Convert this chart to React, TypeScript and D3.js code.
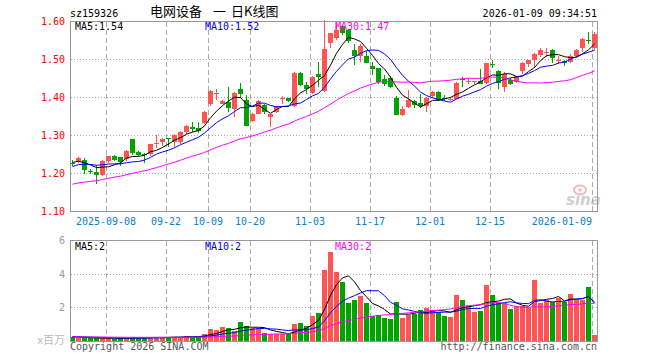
import React from 'react';
import * as d3 from 'd3';

// ---- data ----
const dates = [
  '2025-08-29',
  '2025-09-01', '2025-09-02', '2025-09-03', '2025-09-04', '2025-09-05',
  '2025-09-08', '2025-09-09', '2025-09-10', '2025-09-11', '2025-09-12',
  '2025-09-15', '2025-09-16', '2025-09-17', '2025-09-18', '2025-09-19',
  '2025-09-22', '2025-09-23', '2025-09-24', '2025-09-25', '2025-09-26',
  '2025-09-29', '2025-09-30',
  '2025-10-09', '2025-10-10',
  '2025-10-13', '2025-10-14', '2025-10-15', '2025-10-16', '2025-10-17',
  '2025-10-20', '2025-10-21', '2025-10-22', '2025-10-23', '2025-10-24',
  '2025-10-27', '2025-10-28', '2025-10-29', '2025-10-30', '2025-10-31',
  '2025-11-03', '2025-11-04', '2025-11-05', '2025-11-06', '2025-11-07',
  '2025-11-10', '2025-11-11', '2025-11-12', '2025-11-13', '2025-11-14',
  '2025-11-17', '2025-11-18', '2025-11-19', '2025-11-20', '2025-11-21',
  '2025-11-24', '2025-11-25', '2025-11-26', '2025-11-27', '2025-11-28',
  '2025-12-01', '2025-12-02', '2025-12-03', '2025-12-04', '2025-12-05',
  '2025-12-08', '2025-12-09', '2025-12-10', '2025-12-11', '2025-12-12',
  '2025-12-15', '2025-12-16', '2025-12-17', '2025-12-18', '2025-12-19',
  '2025-12-22', '2025-12-23', '2025-12-24', '2025-12-25', '2025-12-26',
  '2025-12-29', '2025-12-30', '2025-12-31',
  '2026-01-05', '2026-01-06', '2026-01-07', '2026-01-08', '2026-01-09',
];

const opens = [
  1.228, 1.230, 1.236, 1.206, 1.203, 1.196, 1.233, 1.245, 1.242, 1.238,
  1.289, 1.255, 1.251, 1.250, 1.277, 1.280, 1.293, 1.282, 1.282, 1.309,
  1.321, 1.320, 1.331, 1.382, 1.409, 1.383, 1.388, 1.370, 1.423, 1.394,
  1.339, 1.357, 1.379, 1.348, 1.361, 1.396, 1.397, 1.376, 1.464, 1.432,
  1.411, 1.462, 1.417, 1.541, 1.558, 1.587, 1.576, 1.525, 1.508, 1.508,
  1.482, 1.476, 1.449, 1.452, 1.399, 1.353, 1.374, 1.390, 1.384, 1.376,
  1.403, 1.414, 1.398, 1.394, 1.397, 1.448, 1.440, 1.440, 1.443, 1.436,
  1.487, 1.469, 1.427, 1.445, 1.440, 1.467, 1.489, 1.499, 1.512, 1.518,
  1.525, 1.496, 1.495, 1.493, 1.508, 1.528, 1.552, 1.528,
];
const closes = [
  1.227, 1.240, 1.209, 1.205, 1.195, 1.232, 1.245, 1.235, 1.230, 1.260,
  1.251, 1.247, 1.249, 1.276, 1.279, 1.289, 1.292, 1.300, 1.309, 1.324,
  1.317, 1.313, 1.361, 1.416, 1.411, 1.390, 1.373, 1.412, 1.410, 1.326,
  1.357, 1.390, 1.361, 1.355, 1.376, 1.398, 1.388, 1.464, 1.432, 1.421,
  1.453, 1.453, 1.528, 1.568, 1.578, 1.568, 1.546, 1.508, 1.534, 1.490,
  1.473, 1.440, 1.436, 1.427, 1.355, 1.370, 1.392, 1.379, 1.377, 1.397,
  1.414, 1.394, 1.397, 1.396, 1.438, 1.446, 1.442, 1.442, 1.436, 1.489,
  1.485, 1.438, 1.462, 1.434, 1.455, 1.489, 1.499, 1.515, 1.524, 1.520,
  1.504, 1.498, 1.489, 1.510, 1.524, 1.553, 1.549, 1.566,
];
const highs = [
  1.234, 1.243, 1.241, 1.211, 1.222, 1.235, 1.246, 1.248, 1.244, 1.262,
  1.290, 1.258, 1.254, 1.278, 1.300, 1.292, 1.294, 1.303, 1.311, 1.327,
  1.335, 1.335, 1.364, 1.418, 1.423, 1.393, 1.427, 1.415, 1.438, 1.405,
  1.360, 1.392, 1.383, 1.357, 1.378, 1.403, 1.399, 1.466, 1.466, 1.440,
  1.455, 1.493, 1.603, 1.570, 1.600, 1.590, 1.580, 1.539, 1.539, 1.522,
  1.493, 1.478, 1.458, 1.455, 1.403, 1.376, 1.418, 1.394, 1.408, 1.400,
  1.417, 1.417, 1.405, 1.402, 1.440, 1.453, 1.450, 1.443, 1.474, 1.490,
  1.497, 1.473, 1.467, 1.450, 1.457, 1.492, 1.499, 1.517, 1.529, 1.529,
  1.526, 1.510, 1.499, 1.514, 1.526, 1.556, 1.572, 1.572,
];
const lows = [
  1.218, 1.228, 1.199, 1.199, 1.173, 1.192, 1.228, 1.233, 1.220, 1.233,
  1.249, 1.245, 1.226, 1.245, 1.266, 1.271, 1.269, 1.268, 1.278, 1.303,
  1.309, 1.306, 1.330, 1.378, 1.394, 1.383, 1.361, 1.347, 1.397, 1.325,
  1.336, 1.355, 1.357, 1.322, 1.358, 1.383, 1.387, 1.375, 1.430, 1.410,
  1.409, 1.427, 1.414, 1.530, 1.550, 1.565, 1.544, 1.484, 1.493, 1.489,
  1.458, 1.436, 1.431, 1.425, 1.355, 1.350, 1.373, 1.372, 1.373, 1.362,
  1.398, 1.390, 1.390, 1.390, 1.395, 1.427, 1.436, 1.436, 1.435, 1.435,
  1.476, 1.423, 1.414, 1.433, 1.437, 1.461, 1.480, 1.476, 1.505, 1.505,
  1.490, 1.487, 1.482, 1.490, 1.505, 1.520, 1.541, 1.525,
];
// volume, millions of shares
const volumes = [
  0.20, 0.15, 0.18, 0.14, 0.16, 0.15, 0.14, 0.13, 0.15, 0.16,
  0.20, 0.18, 0.16, 0.22, 0.22, 0.20, 0.20, 0.24, 0.22, 0.30,
  0.22, 0.24, 0.42, 0.67, 0.61, 0.82, 0.73, 0.58, 1.13, 0.85,
  0.73, 0.73, 0.48, 0.42, 0.42, 0.38, 0.38, 0.97, 1.07, 0.89,
  1.49, 1.65, 4.23, 5.30, 4.10, 3.50, 2.25, 2.44, 2.68, 2.25,
  1.49, 1.55, 1.37, 1.31, 2.32, 1.37, 1.55, 1.61, 1.85, 1.96,
  1.85, 1.73, 1.49, 1.43, 2.74, 2.44, 2.08, 1.73, 1.79, 3.33,
  2.74, 2.26, 2.26, 1.90, 2.08, 2.08, 1.96, 3.63, 2.26, 2.44,
  2.32, 2.56, 2.32, 2.80, 2.44, 2.44, 3.21, 0.36,
];
// estimated sessions before the window (only feed the moving averages' start)
const priorCloses = [
  1.140, 1.145, 1.150, 1.140, 1.135, 1.140, 1.150, 1.155, 1.145, 1.140,
  1.145, 1.150, 1.155, 1.150, 1.145, 1.150, 1.155, 1.160, 1.150, 1.160,
  1.190, 1.200, 1.210, 1.215, 1.220, 1.225, 1.230, 1.232, 1.229,
];
const priorVolumes = [
  0.22, 0.24, 0.20, 0.22, 0.25, 0.21, 0.23, 0.20, 0.22, 0.24,
  0.21, 0.22, 0.20, 0.23, 0.22, 0.21, 0.24, 0.22, 0.20, 0.23,
  0.22, 0.21, 0.24, 0.26, 0.25, 0.24, 0.25, 0.26, 0.24,
];

const priceTicks = [1.1, 1.2, 1.3, 1.4, 1.5, 1.6];
const volumeTicks = [2, 4, 6];
const xTickDates = ['2025-09-08', '2025-09-22', '2025-10-09', '2025-10-20', '2025-11-03', '2025-11-17', '2025-12-01', '2025-12-15', '2026-01-09'];
const xTickLabels = ['2025-09-08', '09-22', '10-09', '10-20', '11-03', '11-17', '12-01', '12-15', '2026-01-09'];
const titleParts = ['电网设备', '一', '日K线图'];
const maPeriods = [5, 10, 30];
const maColors = ['#000000', '#0000ff', '#ff00ff'];

const RED = '#ff5454';
const GREEN = '#00a300';
const MONO = '"DejaVu Sans Mono", monospace';
const CJK = '"Noto Sans CJK SC", sans-serif';

function movingAverage(prior: number[], values: number[], n: number) {
  const all = prior.concat(values);
  const off = prior.length;
  return values.map((_, i) => d3.mean(all.slice(off + i - n + 1, off + i + 1)) as number);
}

export default function App() {
  React.useEffect(() => {
    document.body.style.margin = '0';
  }, []);

  const n = dates.length;
  const x = d3.scaleLinear().domain([0, n]).range([70, 70 + 6 * n]);
  const yP = d3.scaleLinear().domain([1.1, 1.6]).range([211.3, 21.3]);
  const yV = d3.scaleLinear().domain([0, 6]).range([340.7, 240.3]);
  const cx = (i: number) => x(i) + 2.5;
  const crisp = (v: number) => Math.round(v) + 0.5;

  const priceMA = maPeriods.map((p) => movingAverage(priorCloses, closes, p));
  const volMA = maPeriods.map((p) => movingAverage(priorVolumes, volumes, p));

  const priceLine = d3.line<number>().x((_, i) => cx(i)).y((v) => yP(v));
  const volLine = d3.line<number>().x((_, i) => cx(i)).y((v) => yV(v));

  const fmtP = d3.format('.2f');
  const fmtV = d3.format('.0f');

  const tickIdx = xTickDates.map((d) => dates.indexOf(d));
  const frameL = 70.5;
  const frameR = crisp(x(n) - 1);

  const up = (i: number) => closes[i] >= opens[i];

  const gridV = (top: number, bottom: number) =>
    tickIdx.map((ti, k) => (
      <line key={'gv' + k} x1={x(ti) + 0.5} x2={x(ti) + 0.5} y1={top} y2={bottom}
        stroke="#aaaaaa" strokeDasharray="5,3" shapeRendering="crispEdges" />
    ));

  const titleX = [150, 213, 231];

  return (
    <svg width={660} height={360} style={{ position: 'absolute', left: 0, top: 0, background: '#fff' }}
      xmlns="http://www.w3.org/2000/svg">
      <rect x={0} y={0} width={660} height={360} fill="#ffffff" />

      {/* header */}
      <text x={70} y={17} fontFamily={MONO} fontSize={10} fill="#000">sz159326</text>
      {titleParts.map((t, k) => (
        <text key={'t' + k} x={titleX[k]} y={16} fontFamily={CJK} fontSize={13} fill="#000">{t}</text>
      ))}
      <text x={597} y={17} textAnchor="end" fontFamily={MONO} fontSize={10} fill="#000">2026-01-09 09:34:51</text>

      {/* price panel grid */}
      {priceTicks.slice(1, -1).map((t) => (
        <line key={'gp' + t} x1={frameL} x2={frameR} y1={crisp(yP(t))} y2={crisp(yP(t))}
          stroke="#aaaaaa" strokeDasharray="1,2" shapeRendering="crispEdges" />
      ))}
      {gridV(crisp(yP(1.6)), crisp(yP(1.1)))}

      {/* watermark */}
      <g opacity={0.55}>
        <ellipse cx={580} cy={190} rx={6} ry={4.5} fill="none" stroke="#f08080" strokeWidth={2} />
        <circle cx={580} cy={190} r={1.8} fill="#f08080" />
        <text x={566} y={205} fontFamily='"DejaVu Sans", sans-serif' fontStyle="italic" fontWeight="bold"
          fontSize={15} fill="#a8a8a8">sina</text>
      </g>

      {/* candles */}
      {closes.map((c, i) => {
        const o = opens[i];
        const col = up(i) ? RED : GREEN;
        const top = yP(Math.max(o, c));
        const bot = yP(Math.min(o, c));
        const h = Math.max(1, Math.round(bot - top));
        return (
          <g key={'c' + i} shapeRendering="crispEdges">
            <line x1={cx(i)} x2={cx(i)} y1={Math.round(yP(highs[i]))} y2={Math.round(yP(lows[i]))} stroke={col} />
            <rect x={x(i)} y={Math.round(top)} width={5} height={h} fill={col} />
          </g>
        );
      })}

      {/* price MAs */}
      {priceMA.map((arr, k) => (
        <path key={'pm' + k} d={priceLine(arr) || ''} fill="none" stroke={maColors[k]} strokeWidth={1} />
      ))}

      {/* price frame */}
      <rect x={frameL} y={crisp(yP(1.6))} width={frameR - frameL} height={crisp(yP(1.1)) - crisp(yP(1.6))}
        fill="none" stroke="#999999" shapeRendering="crispEdges" />

      {/* price axis labels */}
      {priceTicks.map((t) => (
        <text key={'pl' + t} x={65} y={yP(t) + 4} textAnchor="end" fontFamily={MONO} fontSize={10} fill="#ff0000">
          {fmtP(t)}
        </text>
      ))}

      {/* MA legends */}
      {priceMA.map((arr, k) => (
        <text key={'pml' + k} x={75 + 130 * k} y={29.5} fontFamily={MONO} fontSize={10} fill={maColors[k]}>
          {`MA${maPeriods[k]}:${fmtP(arr[arr.length - 1])}`}
        </text>
      ))}

      {/* x axis labels */}
      {tickIdx.map((ti, k) => {
        const last = k === tickIdx.length - 1;
        return (
          <text key={'xl' + k} x={x(ti)} y={225} textAnchor={last ? 'end' : 'middle'}
            fontFamily={MONO} fontSize={10} fill="#0a80c8">
            {xTickLabels[k]}
          </text>
        );
      })}

      {/* volume panel grid */}
      {volumeTicks.slice(0, -1).map((t) => (
        <line key={'gvv' + t} x1={frameL} x2={frameR} y1={crisp(yV(t))} y2={crisp(yV(t))}
          stroke="#aaaaaa" strokeDasharray="1,2" shapeRendering="crispEdges" />
      ))}
      {gridV(crisp(yV(6)), crisp(yV(0)))}

      {/* volume bars */}
      {volumes.map((v, i) => (
        <rect key={'v' + i} x={x(i)} y={Math.round(yV(v))} width={5} height={Math.max(1, Math.round(yV(0)) - Math.round(yV(v)))}
          fill={up(i) ? RED : GREEN} shapeRendering="crispEdges" />
      ))}

      {/* volume MAs */}
      {volMA.map((arr, k) => (
        <path key={'vm' + k} d={volLine(arr) || ''} fill="none" stroke={maColors[k]} strokeWidth={1} />
      ))}

      {/* volume frame */}
      <rect x={frameL} y={crisp(yV(6))} width={frameR - frameL} height={crisp(yV(0)) - crisp(yV(6))}
        fill="none" stroke="#999999" shapeRendering="crispEdges" />

      {volumeTicks.map((t) => (
        <text key={'vl' + t} x={65} y={yV(t) + 4} textAnchor="end" fontFamily={MONO} fontSize={10} fill="#999999">
          {fmtV(t)}
        </text>
      ))}
      <text x={65} y={344} textAnchor="end" fontFamily={CJK} fontSize={11} fill="#bbbbbb">x百万</text>

      {volMA.map((arr, k) => (
        <text key={'vml' + k} x={75 + 130 * k} y={249.5} fontFamily={MONO} fontSize={10} fill={maColors[k]}>
          {`MA${maPeriods[k]}:${fmtV(arr[arr.length - 1])}`}
        </text>
      ))}

      {/* footer */}
      <text x={70} y={350} fontFamily={MONO} fontSize={10} fill="#555555">Copyright 2026 SINA.COM</text>
      <text x={597} y={350} textAnchor="end" fontFamily={MONO} fontSize={10} fill="#555555">http://finance.sina.com.cn</text>
    </svg>
  );
}
